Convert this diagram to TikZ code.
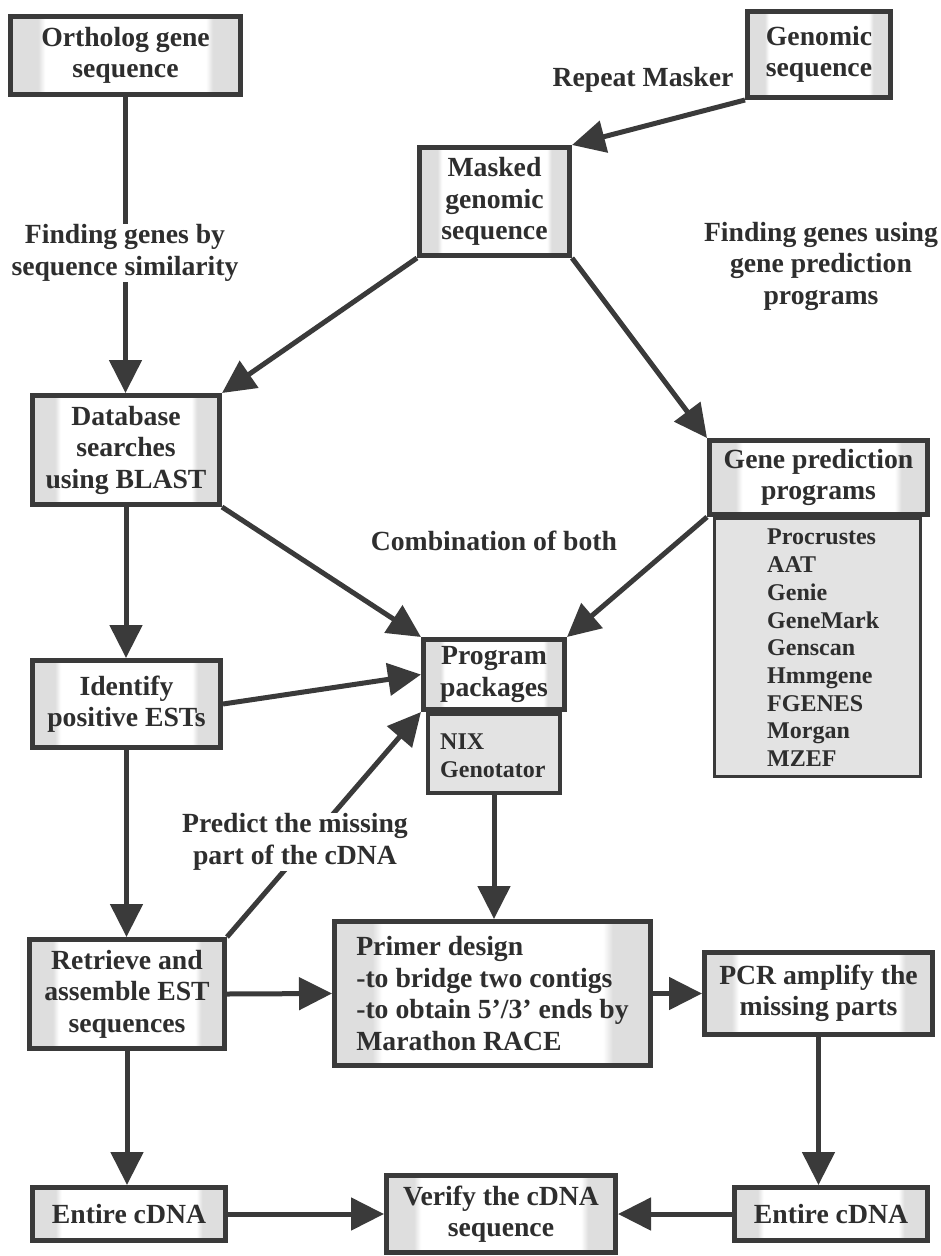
\documentclass[tikz,border=0pt]{standalone}
\usepackage{fontspec}
\setmainfont{Liberation Serif}
\usetikzlibrary{arrows.meta}

\definecolor{edge}{HTML}{3A3A3A}
\definecolor{ink}{HTML}{2E2E2E}
\definecolor{shgray}{HTML}{DEDEDE}
\definecolor{listgray}{HTML}{E3E3E3}

% grey side bands fading into a white centre (TikZ maps 25bp..75bp onto the box)
\pgfdeclarehorizontalshading{boxfill}{100bp}{color(0bp)=(shgray); color(31bp)=(shgray); color(32.5bp)=(white); color(67.5bp)=(white); color(69bp)=(shgray); color(100bp)=(shgray)}

\newcommand{\boxfont}{\fontsize{27.7pt}{31.5pt}\selectfont\bfseries}
\newcommand{\listfont}{\fontsize{24pt}{27.7pt}\selectfont\bfseries}

\tikzset{
  box/.style={draw=edge, line width=5pt, shade, shading=boxfill, text=ink, font=\boxfont, align=center, inner sep=0pt},
  subbox/.style={draw=edge, fill=listgray, inner sep=0pt},
  arr/.style={draw=edge, line width=5pt, -{Triangle[length=33pt,width=32pt]}},
  lbl/.style={text=ink, font=\boxfont, align=center, inner sep=1pt},
  listtext/.style={text=ink, font=\listfont, align=left, inner sep=0pt, anchor=north west},
}

\begin{document}
\begin{tikzpicture}[x=1pt,y=-1pt]
\useasboundingbox (0,0) rectangle (940,1256);

% ---- side lists (drawn first, the headers sit on top) ----
\node[subbox, line width=3pt, minimum width=206pt, minimum height=258pt] (glist) at (817.5,647.5) {};
\node[listtext] (glisttxt) at (767,529) {Procrustes\\AAT\\Genie\\GeneMark\\Genscan\\Hmmgene\\FGENES\\Morgan\\MZEF};
\node[subbox, line width=4pt, minimum width=132pt, minimum height=79pt] (nix) at (494,753.5) {};
\node[listtext] (nixtxt) at (440,734) {NIX\\Genotator};

% ---- boxes ----
\node[box, minimum width=230pt, minimum height=78pt]  (ortho)    at (125.5,55.5) {Ortholog gene\\sequence};
\node[box, minimum width=143pt, minimum height=86pt]  (genomic)  at (819,54.5)   {Genomic\\sequence};
\node[box, minimum width=150pt, minimum height=108pt] (masked)   at (494.5,201.5) {Masked\\genomic\\sequence};
\node[box, minimum width=187pt, minimum height=109pt] (db)       at (126,450)    {Database\\searches\\using BLAST};
\node[box, minimum width=218pt, minimum height=74pt]  (genepred) at (818.5,477.5) {Gene prediction\\programs};
\node[box, minimum width=141pt, minimum height=70pt]  (progpkg)  at (494,674.5)  {Program\\packages};
\node[box, minimum width=188pt, minimum height=87pt]  (identify) at (126.5,704)  {Identify\\positive ESTs};
\node[box, minimum width=195pt, minimum height=109pt] (retrieve) at (127,994)    {Retrieve and\\assemble EST\\sequences};
\node[box, minimum width=316pt, minimum height=144pt, align=left] (primer) at (492.5,993.5)
  {Primer design\\-to bridge two contigs\\-to obtain 5’/3’ ends by\\Marathon RACE};
\node[box, minimum width=228pt, minimum height=82pt]  (pcr)      at (818.5,993.5) {PCR amplify the\\missing parts};
\node[box, minimum width=193pt, minimum height=53pt]  (entireA)  at (129,1214)   {Entire cDNA};
\node[box, minimum width=229pt, minimum height=77pt]  (verify)   at (501,1214)   {Verify the cDNA\\sequence};
\node[box, minimum width=193pt, minimum height=53pt]  (entireB)  at (831,1214)   {Entire cDNA};

% ---- connectors ----
\draw[arr] (ortho.south) -- (ortho.south |- db.north);
\draw[arr] (genomic.south west) -- (masked.north east);
\draw[arr] (masked.south west) -- (db.north east);
\draw[arr] (masked.south east) -- (genepred.north west);
\draw[arr] (db.south) -- (db.south |- identify.north);
\draw[arr] (db.south east) -- (progpkg.north west);
\draw[arr] (genepred.south west) -- (progpkg.north east);
\draw[arr] (identify.east) -- (progpkg.west);
\draw[arr] (retrieve.north east) -- (progpkg.south west);
\draw[arr] (identify.south) -- (identify.south |- retrieve.north);
\draw[arr] (nix.south) -- (nix.south |- primer.north);
\draw[arr] (retrieve.east) -- (primer.west);
\draw[arr] (primer.east) -- (pcr.west);
\draw[arr] (retrieve.south) -- (retrieve.south |- entireA.north);
\draw[arr] (pcr.south) -- (pcr.south |- entireB.north);
\draw[arr] (entireA.east) -- (verify.west);
\draw[arr] (entireB.west) -- (verify.east);

% ---- labels ----
\node[lbl] (lrepeat)  at (643,80)  {Repeat Masker};
\node[lbl, fill=white] (lsimil) at (125,253) {Finding genes by\\sequence similarity};
\node[lbl] (lpredict) at (821,266) {Finding genes using\\gene prediction\\programs};
\node[lbl] (lboth)    at (494,541) {Combination of both};
\node[lbl, fill=white] (lmissing) at (295,842) {Predict the missing\\part of the cDNA};
\end{tikzpicture}
\end{document}
